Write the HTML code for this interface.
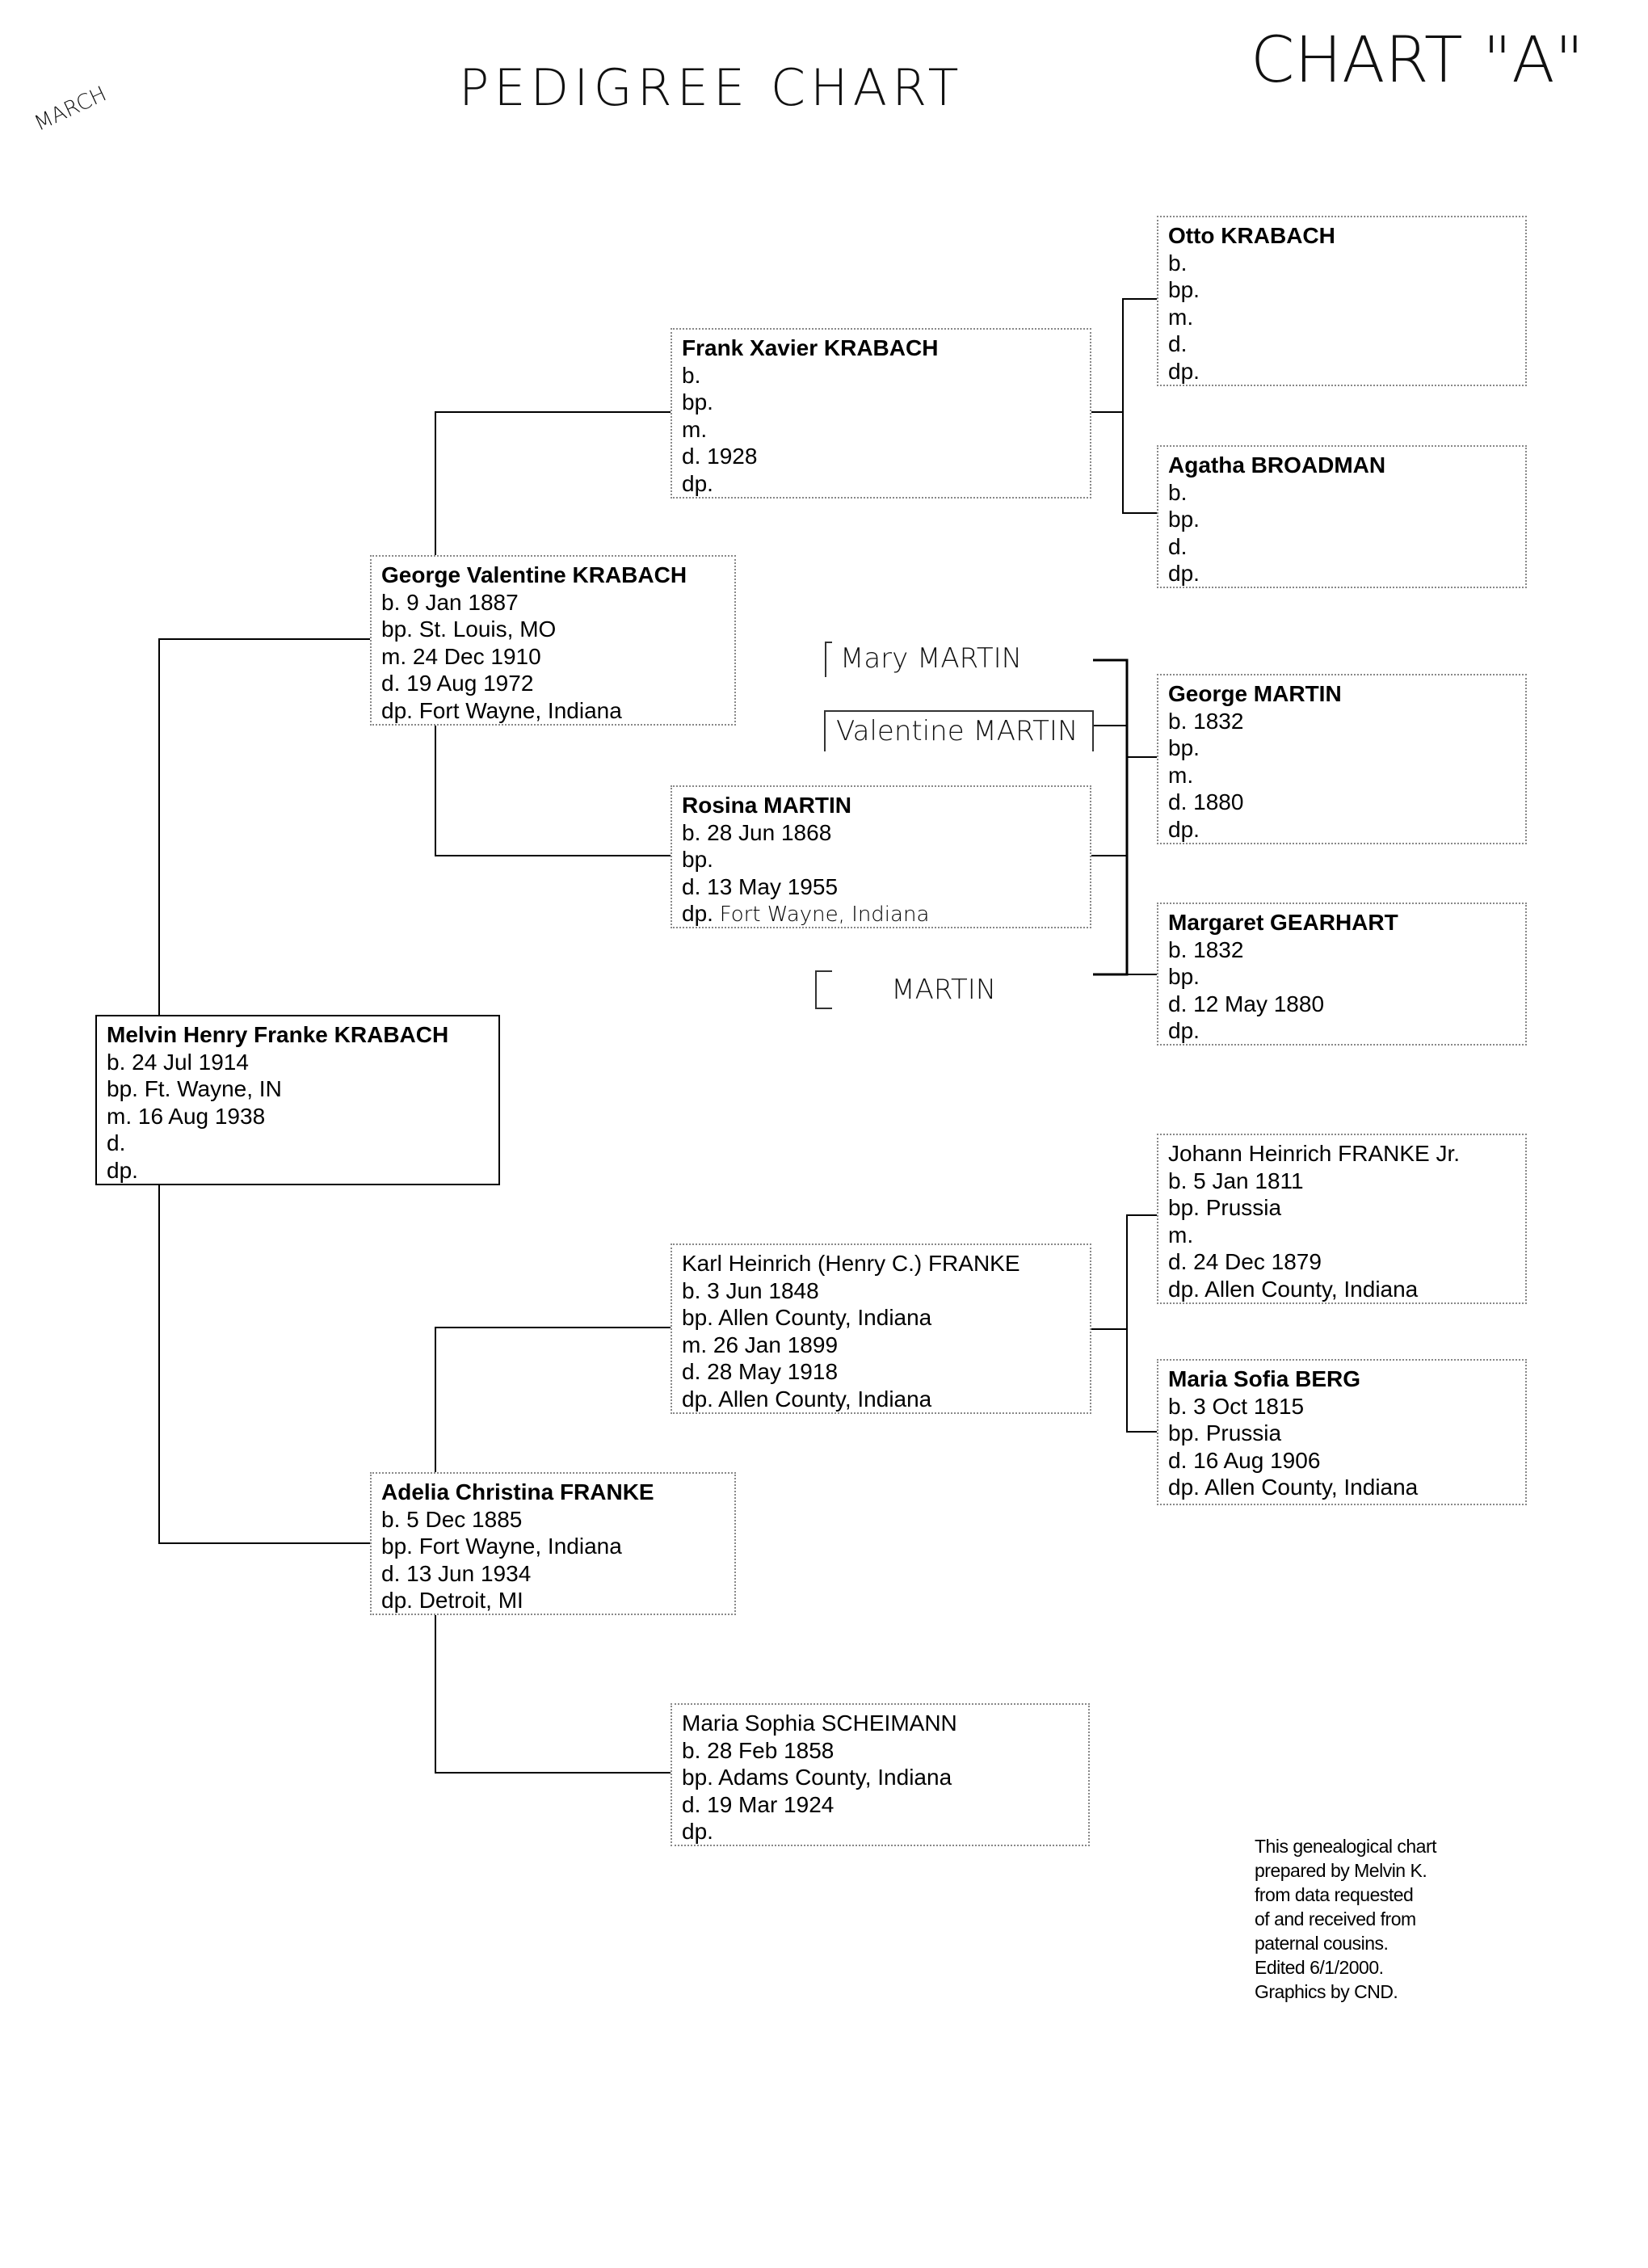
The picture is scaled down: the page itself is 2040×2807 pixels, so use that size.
<!DOCTYPE html>
<html><head><meta charset="utf-8"><style>
body{margin:0;width:2040px;height:2807px;background:#fff;position:relative;overflow:hidden;font-family:"Liberation Sans Narrow","Liberation Sans",sans-serif;}
.b{position:absolute;border:2px dotted #888;box-sizing:border-box;padding:6px 0 0 12px;font-size:28px;line-height:33.5px;color:#000;background:#fff;}
.b b{display:block;font-weight:bold;}
.b div{white-space:nowrap}
.h{position:absolute;font-family:"DejaVu Sans",sans-serif;font-weight:200;color:#111;white-space:nowrap;}
svg{position:absolute;left:0;top:0}
</style></head><body>
<svg width="2040" height="2807">
<g stroke="#000" stroke-width="2" fill="none">
<polyline points="458,791 197,791 197,1910 458,1910"/>
<polyline points="830,510 539,510 539,1059 830,1059"/>
<polyline points="830,1643 539,1643 539,2194 830,2194"/>
<line x1="1351" y1="510" x2="1390" y2="510"/>
<polyline points="1432,370 1390,370 1390,635 1432,635"/>
<line x1="1351" y1="1059" x2="1395" y2="1059"/>
<polyline points="1353,817 1395,817 1395,1206 1353,1206" stroke-width="3"/>
<line x1="1353" y1="898" x2="1395" y2="898"/>
<line x1="1395" y1="937" x2="1432" y2="937"/>
<line x1="1395" y1="1206" x2="1432" y2="1206"/>
<line x1="1351" y1="1645" x2="1395" y2="1645"/>
<polyline points="1432,1504 1395,1504 1395,1772 1432,1772"/>
</g>
<g stroke="#333" stroke-width="2" fill="none">
<polyline points="1022,838 1022,795 1030,795"/>
<polyline points="1021,930 1021,880 1353,880 1353,930"/>
<polyline points="1030,1202 1010,1202 1010,1248 1030,1248"/>
</g>
</svg>

<div class="h" style="left:40px;top:120px;font-size:26px;transform:rotate(-25deg);">MARCH</div>
<div class="h" style="left:568px;top:72px;font-size:62px;letter-spacing:6px;">PEDIGREE CHART</div>
<div class="h" style="left:1548px;top:30px;font-size:78px;">CHART "A"</div>
<div class="h" style="left:1040px;top:795px;font-size:34px;">Mary MARTIN</div>
<div class="h" style="left:1035px;top:885px;font-size:34px;">Valentine MARTIN</div>
<div class="h" style="left:1060px;top:1205px;font-size:34px;">&nbsp;&nbsp;&nbsp;&nbsp;MARTIN</div>

<div class="b" style="left:1432px;top:267px;width:458px;height:211px;"><b>Otto KRABACH</b><div>b.</div><div>bp.</div><div>m.</div><div>d.</div><div>dp.</div></div>
<div class="b" style="left:1432px;top:551px;width:458px;height:177px;"><b>Agatha BROADMAN</b><div>b.</div><div>bp.</div><div>d.</div><div>dp.</div></div>
<div class="b" style="left:830px;top:406px;width:521px;height:211px;"><b>Frank Xavier KRABACH</b><div>b.</div><div>bp.</div><div>m.</div><div>d. 1928</div><div>dp.</div></div>
<div class="b" style="left:458px;top:687px;width:453px;height:211px;"><b>George Valentine KRABACH</b><div>b. 9 Jan 1887</div><div>bp. St. Louis, MO</div><div>m. 24 Dec 1910</div><div>d. 19 Aug 1972</div><div>dp. Fort Wayne, Indiana</div></div>
<div class="b" style="left:830px;top:972px;width:521px;height:177px;"><b>Rosina MARTIN</b><div>b. 28 Jun 1868</div><div>bp.</div><div>d. 13 May 1955</div><div>dp. <span style="font-family:'DejaVu Sans',sans-serif;font-weight:200;font-size:26px">Fort Wayne, Indiana</span></div></div>
<div class="b" style="left:1432px;top:834px;width:458px;height:211px;"><b>George MARTIN</b><div>b. 1832</div><div>bp.</div><div>m.</div><div>d. 1880</div><div>dp.</div></div>
<div class="b" style="left:1432px;top:1117px;width:458px;height:177px;"><b>Margaret GEARHART</b><div>b. 1832</div><div>bp.</div><div>d. 12 May 1880</div><div>dp.</div></div>
<div class="b" style="left:118px;top:1256px;width:501px;height:211px;border:2px solid #000;"><b>Melvin Henry Franke KRABACH</b><div>b. 24 Jul 1914</div><div>bp. Ft. Wayne, IN</div><div>m. 16 Aug 1938</div><div>d.</div><div>dp.</div></div>
<div class="b" style="left:1432px;top:1403px;width:458px;height:211px;"><div>Johann Heinrich FRANKE Jr.</div><div>b. 5 Jan 1811</div><div>bp. Prussia</div><div>m.</div><div>d. 24 Dec 1879</div><div>dp. Allen County, Indiana</div></div>
<div class="b" style="left:830px;top:1539px;width:521px;height:211px;"><div>Karl Heinrich (Henry C.) FRANKE</div><div>b. 3 Jun 1848</div><div>bp. Allen County, Indiana</div><div>m. 26 Jan 1899</div><div>d. 28 May 1918</div><div>dp. Allen County, Indiana</div></div>
<div class="b" style="left:1432px;top:1682px;width:458px;height:181px;"><b>Maria Sofia BERG</b><div>b. 3 Oct 1815</div><div>bp. Prussia</div><div>d. 16 Aug 1906</div><div>dp. Allen County, Indiana</div></div>
<div class="b" style="left:458px;top:1822px;width:453px;height:177px;"><b>Adelia Christina FRANKE</b><div>b. 5 Dec 1885</div><div>bp. Fort Wayne, Indiana</div><div>d. 13 Jun 1934</div><div>dp. Detroit, MI</div></div>
<div class="b" style="left:830px;top:2108px;width:519px;height:177px;"><div>Maria Sophia SCHEIMANN</div><div>b. 28 Feb 1858</div><div>bp. Adams County, Indiana</div><div>d. 19 Mar 1924</div><div>dp.</div></div>

<div style="position:absolute;left:1553px;top:2270px;font-size:23px;line-height:30px;letter-spacing:-0.5px;">This genealogical chart<br>prepared by Melvin K.<br>from data requested<br>of and received from<br>paternal cousins.<br>Edited 6/1/2000.<br>Graphics by CND.</div>
</body></html>
